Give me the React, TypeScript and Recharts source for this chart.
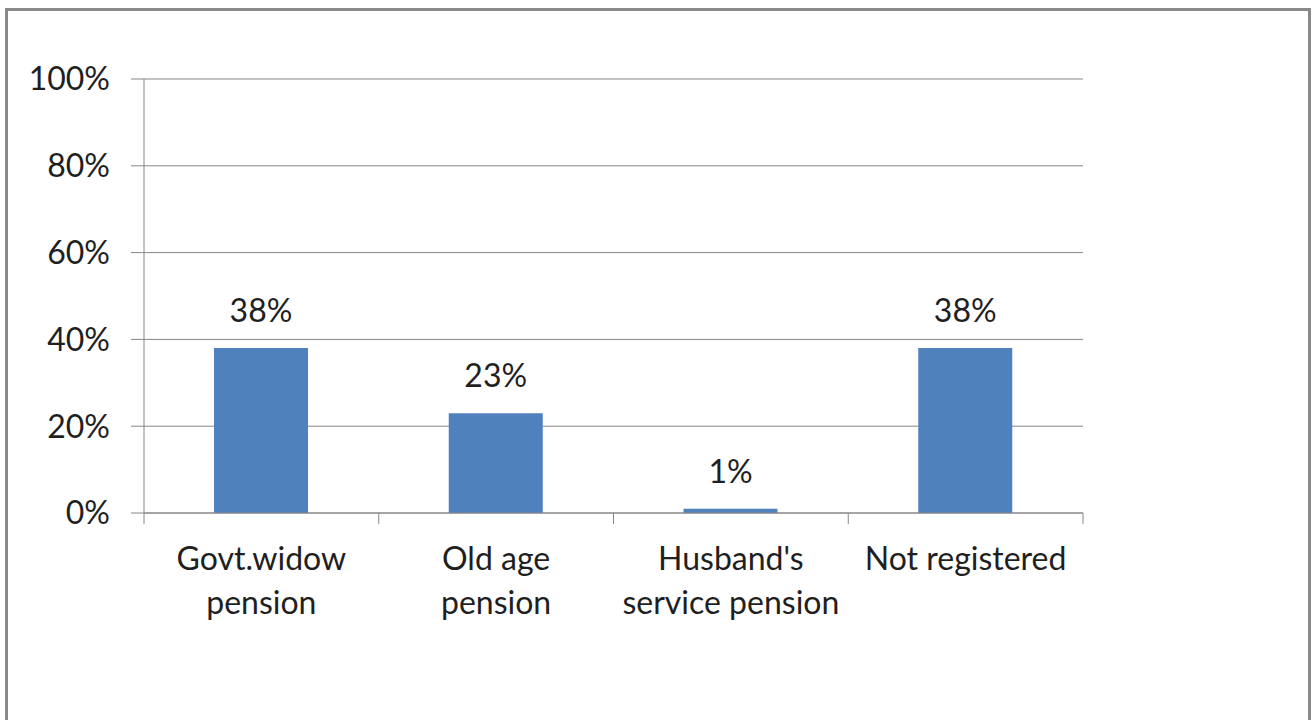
import { BarChart, Bar, XAxis, YAxis, CartesianGrid, LabelList } from "recharts";

const categories = ["Govt.widow\npension", "Old age\npension", "Husband's\nservice pension", "Not registered"];
const shares = [0.38, 0.23, 0.01, 0.38];
const yTicks = [0, 0.2, 0.4, 0.6, 0.8, 1];

const data = categories.map((name, i) => ({ name, share: shares[i] }));

const FONT = "Lato, 'Open Sans', sans-serif";
const AXIS = "#868686";
const TEXT = "#1f1f1f";
const FS = 32;

const pct = (v: number) => `${Math.round(v * 100)}%`;

// category label plus the boundary tick marks Excel draws between categories
const CategoryTick = (props: any) => {
  const { x, y, payload, index, visibleTicksCount } = props;
  const half = payload.offset ?? 0;
  const lines = String(payload.value).split("\n");
  const last = index === visibleTicksCount - 1;
  return (
    <g>
      <line x1={x - half} x2={x - half} y1={y} y2={y + 11} stroke={AXIS} />
      {last && <line x1={x + half} x2={x + half} y1={y} y2={y + 11} stroke={AXIS} />}
      {lines.map((t, i) => (
        <text
          key={i}
          x={x}
          y={y + 57 + i * 44}
          textAnchor="middle"
          fill={TEXT}
          fontSize={FS}
          fontFamily={FONT}
        >
          {t}
        </text>
      ))}
    </g>
  );
};

export default function App() {
  return (
    <div style={{ position: "absolute", left: 0, top: 0, width: 1312, height: 720, background: "#fff" }}>
      <div
        style={{
          position: "absolute",
          left: 5,
          top: 8,
          width: 1306,
          height: 720,
          boxSizing: "border-box",
          border: "3px solid #898989",
          borderBottom: "none",
        }}
      />
      <div style={{ position: "absolute", left: 0, top: 0 }}>
        <BarChart
          width={1312}
          height={720}
          data={data}
          margin={{ top: 79, right: 229, bottom: 0, left: 0 }}
        >
          <CartesianGrid vertical={false} stroke={AXIS} strokeWidth={1} />
          <XAxis
            dataKey="name"
            axisLine={{ stroke: AXIS }}
            tickLine={false}
            tickSize={0}
            tickMargin={0}
            interval={0}
            height={207}
            tick={<CategoryTick />}
          />
          <YAxis
            width={144}
            domain={[0, 1]}
            ticks={yTicks}
            tickFormatter={pct}
            axisLine={{ stroke: AXIS }}
            tickLine={{ stroke: AXIS }}
            tickSize={13}
            tickMargin={21}
            tick={{ fill: TEXT, fontSize: FS, fontFamily: FONT }}
          />
          <Bar dataKey="share" fill="#4F81BD" barSize={94} isAnimationActive={false}>
            <LabelList
              dataKey="share"
              position="top"
              offset={26}
              formatter={(v: any) => pct(Number(v))}
              fill={TEXT}
              fontSize={FS}
              fontFamily={FONT}
            />
          </Bar>
        </BarChart>
      </div>
    </div>
  );
}
